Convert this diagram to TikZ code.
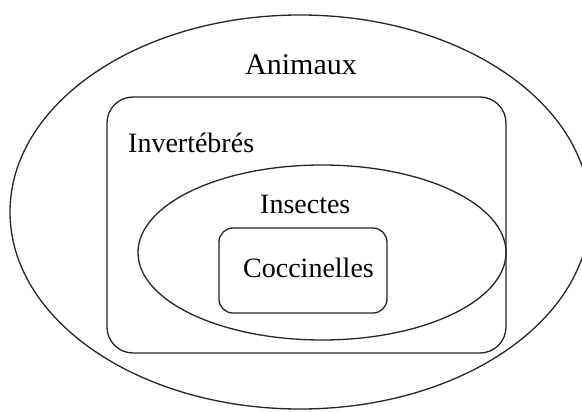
\documentclass[tikz,border=0pt]{standalone}
\usepackage{fontspec}
\setmainfont{Liberation Serif}
\usetikzlibrary{shapes.geometric}
\begin{document}
\begin{tikzpicture}[x=1pt,y=1pt,
  outline/.style={draw=black!85,line width=1.3pt,inner sep=0pt,outer sep=0pt},
  oval/.style={outline,ellipse},
  rbox/.style={outline,rectangle},
  lbl/.style={anchor=base west,inner sep=0pt,font=\fontsize{28}{30}\selectfont}]
\useasboundingbox (0,0) rectangle (582,-412);
\clip (0,0) rectangle (582,-412);
\fill[white] (0,0) rectangle (582,-412);
\node[oval,minimum width=580,minimum height=394] (animaux) at (300,-212) {};
\node[rbox,rounded corners=26,minimum width=399,minimum height=256] (invert) at (306.5,-225) {};
\node[oval,minimum width=368,minimum height=175] (insectes) at (322,-252.5) {};
\node[rbox,rounded corners=14,minimum width=168,minimum height=85] (cocci) at (303,-270.5) {};
\node[lbl,font=\fontsize{30}{32}\selectfont] (tanimaux) at (245,-75) {Animaux};
\node[lbl] (tinvert) at (128,-153) {Invertébrés};
\node[lbl] (tinsectes) at (260,-213) {Insectes};
\node[lbl] (tcocci) at (243,-277) {Coccinelles};
\end{tikzpicture}
\end{document}
